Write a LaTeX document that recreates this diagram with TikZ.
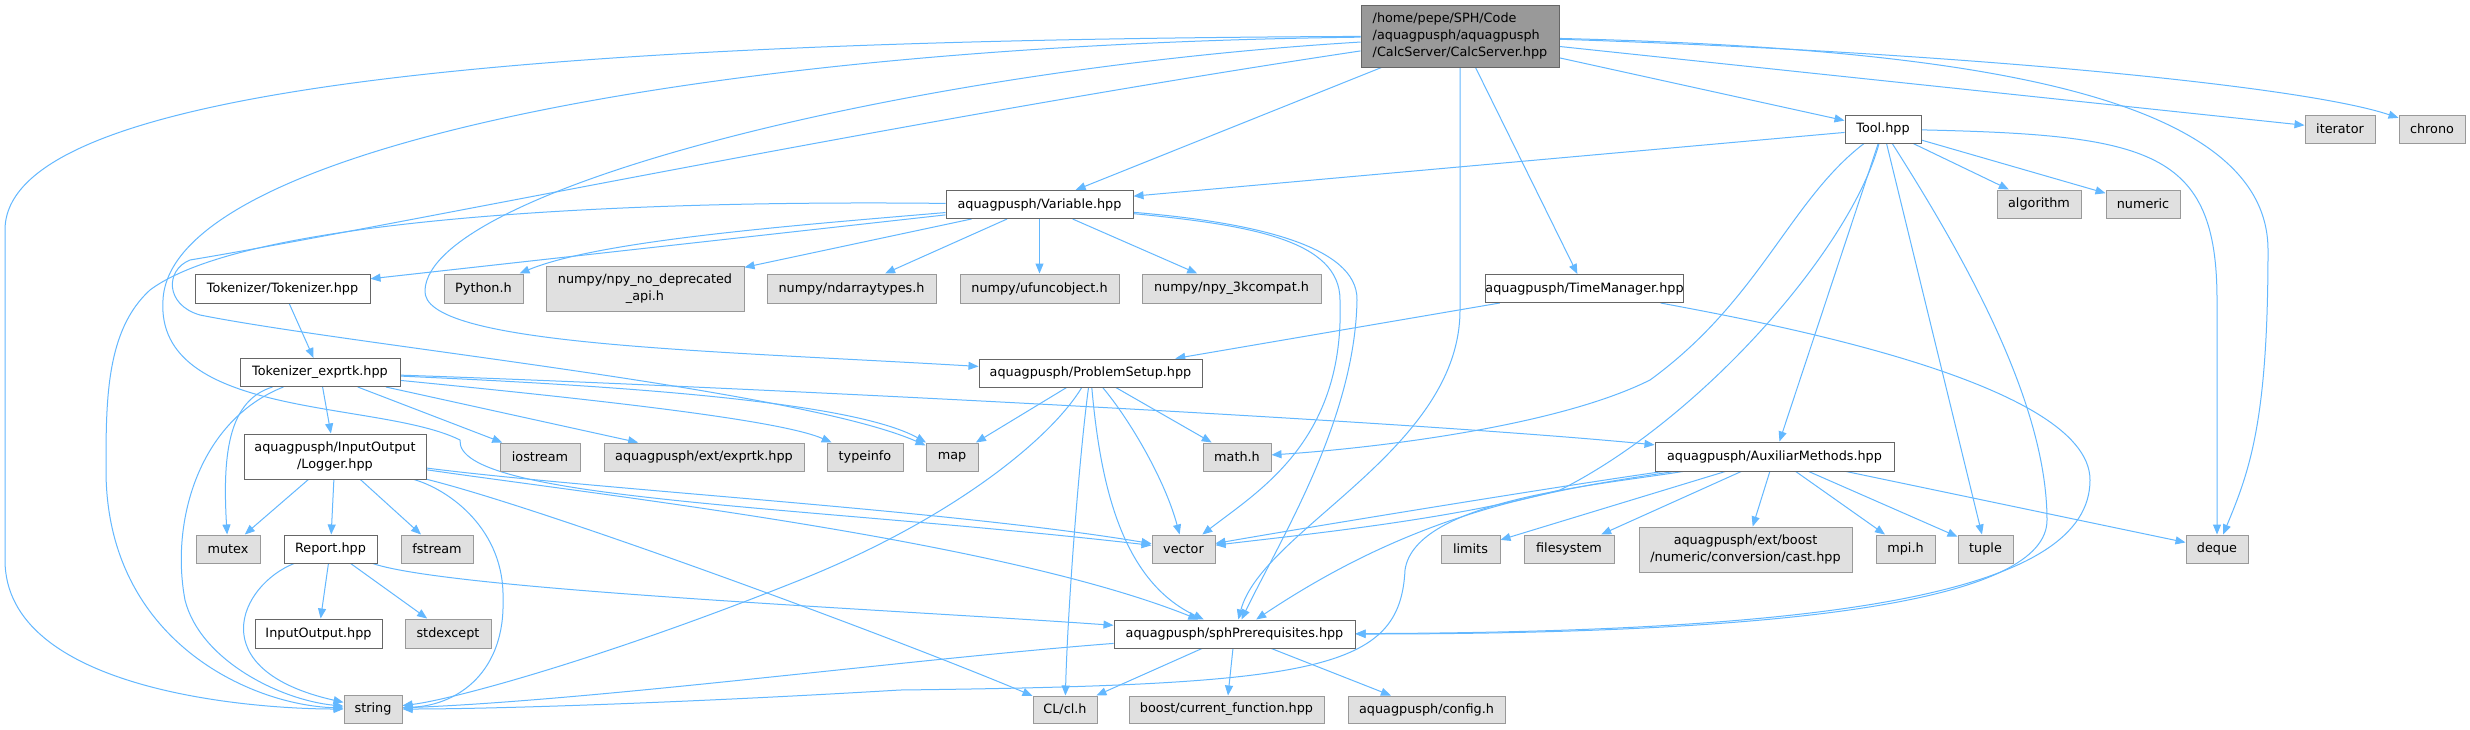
\documentclass[tikz,border=0pt]{standalone}
\usepackage{fontspec}
\setmainfont{DejaVu Sans}
\usetikzlibrary{arrows.meta,backgrounds}
\definecolor{edgec}{RGB}{99,184,255}
\definecolor{grayfill}{RGB}{224,224,224}
\definecolor{grayline}{RGB}{153,153,153}
\definecolor{darkline}{RGB}{102,102,102}
\definecolor{rootfill}{RGB}{153,153,153}
\begin{document}
\begin{tikzpicture}[x=0.75pt,y=-0.75pt,
  base/.style={rectangle, inner sep=0pt, line width=0.75pt, align=center,
    font=\fontsize{9.6}{13}\selectfont, text=black},
  sz/.style 2 args={minimum width=#1*0.75pt, minimum height=#2*0.75pt},
  sys/.style={base, draw=grayline, fill=grayfill},
  loc/.style={base, draw=darkline, fill=white},
  rootn/.style={base, draw=darkline, fill=rootfill, align=left},
  dep/.style={draw=edgec, line width=0.75pt, -{Triangle[length=7.5pt,width=6pt]}}
]
\useasboundingbox (0,0) rectangle (2470,729);
% nodes
\node[rootn, sz={198}{62}] (R) at (1460,36) {/home/pepe/SPH/Code\\/aquagpusph/aquagpusph\\/CalcServer/CalcServer.hpp};
\node[loc, sz={76}{28}] (T) at (1883,129) {Tool.hpp};
\node[sys, sz={70}{28}] (it) at (2340,129) {iterator};
\node[sys, sz={66}{28}] (chr) at (2432,129) {chrono};
\node[loc, sz={187}{28}] (V) at (1039.5,204.5) {aquagpusph/Variable.hpp};
\node[sys, sz={84}{28}] (alg) at (2039,204) {algorithm};
\node[sys, sz={74}{28}] (num) at (2143,204) {numeric};
\node[loc, sz={175}{29}] (Tok) at (282.5,288.5) {Tokenizer/Tokenizer.hpp};
\node[sys, sz={79}{29}] (py) at (483.5,288.5) {Python.h};
\node[sys, sz={198}{45}] (npd) at (645,288.5) {numpy/npy\_no\_deprecated\\\_api.h};
\node[sys, sz={169}{29}] (nd) at (851.5,288.5) {numpy/ndarraytypes.h};
\node[sys, sz={159}{29}] (uf) at (1039.5,288.5) {numpy/ufuncobject.h};
\node[sys, sz={179}{29}] (n3k) at (1231.5,288.5) {numpy/npy\_3kcompat.h};
\node[loc, sz={175}{28}] (TM) at (1584.5,288.5) {aquagpusph/TimeManager.hpp};
\node[loc, sz={160}{28}] (TE) at (320,372.5) {Tokenizer\_exprtk.hpp};
\node[loc, sz={223}{28}] (PS) at (1090.5,373) {aquagpusph/ProblemSetup.hpp};
\node[loc, sz={182}{45}] (Log) at (335,456.5) {aquagpusph/InputOutput\\/Logger.hpp};
\node[sys, sz={80}{28}] (ios) at (540,457) {iostream};
\node[sys, sz={200}{28}] (ext) at (704,457) {aquagpusph/ext/exprtk.hpp};
\node[sys, sz={76}{28}] (ti) at (865,457) {typeinfo};
\node[sys, sz={52}{28}] (map) at (952,457) {map};
\node[sys, sz={68}{28}] (math) at (1237,457) {math.h};
\node[loc, sz={239}{29}] (A) at (1774.5,456.5) {aquagpusph/AuxiliarMethods.hpp};
\node[sys, sz={64}{28}] (mtx) at (228,549) {mutex};
\node[loc, sz={93}{28}] (Rep) at (330.5,549) {Report.hpp};
\node[sys, sz={72}{28}] (fs) at (437,549) {fstream};
\node[sys, sz={63}{28}] (vec) at (1183.5,549) {vector};
\node[sys, sz={59}{28}] (lim) at (1470.5,549) {limits};
\node[sys, sz={90}{28}] (fsys) at (1569,549) {filesystem};
\node[sys, sz={213}{45}] (cast) at (1745.5,549.5) {aquagpusph/ext/boost\\/numeric/conversion/cast.hpp};
\node[sys, sz={59}{28}] (mpi) at (1905.5,549) {mpi.h};
\node[sys, sz={55}{28}] (tup) at (1985.5,549) {tuple};
\node[sys, sz={62}{28}] (dq) at (2217,549) {deque};
\node[loc, sz={127}{29}] (IO) at (318.5,633.5) {InputOutput.hpp};
\node[sys, sz={86}{29}] (se) at (448,633.5) {stdexcept};
\node[loc, sz={241}{28}] (S) at (1234.5,634) {aquagpusph/sphPrerequisites.hpp};
\node[sys, sz={58}{28}] (str) at (373,709) {string};
\node[sys, sz={64}{27}] (CL) at (1065,709.5) {CL/cl.h};
\node[sys, sz={195}{27}] (bst) at (1226.5,709.5) {boost/current\_function.hpp};
\node[sys, sz={157}{27}] (cfg) at (1426.5,709.5) {aquagpusph/config.h};
% edges
\begin{pgfonlayer}{background}
\fill[white] (0,0) rectangle (2470,729);
% CalcServer
\draw[dep] (R) .. controls (500,40) and (5,90) .. (5,230) -- (5,560) .. controls (5,690) and (250,709) .. (str);
\draw[dep] (R) .. controls (700,45) and (170,150) .. (163,300) .. controls (155,420) and (380,400) .. (460,440) .. controls (455,500) and (800,505) .. (vec);
\draw[dep] (R) .. controls (900,120) and (400,225) .. (190,260) .. controls (165,270) and (165,305) .. (200,315) .. controls (350,345) and (800,390) .. (map);
\draw[dep] (R) .. controls (900,70) and (430,190) .. (425,290) .. controls (420,345) and (700,350) .. (PS);
\draw[dep] (R) .. controls (1950,48) and (2268,90) .. (2268,250) .. controls (2268,420) and (2250,470) .. (dq);
\draw[dep] (R) -- (it);
\draw[dep] (R) .. controls (1950,52) and (2300,85) .. (chr);
\draw[dep] (R) -- (T);
\draw[dep] (R) -- (V);
\draw[dep] (R) -- (TM);
\draw[dep] (R) -- (1460,310) .. controls (1460,450) and (1262,530) .. (S);
% Variable
\draw[dep] (V) .. controls (650,200) and (250,215) .. (150,290) .. controls (106,330) and (106,400) .. (106,470) .. controls (106,640) and (250,705) .. (str);
\draw[dep] (V) -- (Tok);
\draw[dep] (V) .. controls (800,225) and (600,240) .. (py);
\draw[dep] (V) -- (npd);
\draw[dep] (V) -- (nd);
\draw[dep] (V) -- (uf);
\draw[dep] (V) -- (n3k);
\draw[dep] (V) .. controls (1250,225) and (1340,240) .. (1340,300) .. controls (1345,440) and (1260,490) .. (vec);
\draw[dep] (V) .. controls (1250,222) and (1358,245) .. (1357,300) .. controls (1355,420) and (1280,540) .. (S);
% Tool
\draw[dep] (T) -- (V);
\draw[dep] (T) .. controls (1790,200) and (1760,300) .. (1650,380) .. controls (1550,430) and (1350,450) .. (math);
\draw[dep] (T) .. controls (1850,250) and (1700,420) .. (1560,490) .. controls (1450,520) and (1300,535) .. (vec);
\draw[dep] (T) -- (A);
\draw[dep] (T) .. controls (1960,250) and (2047,400) .. (2047,520) .. controls (2047,600) and (1800,634) .. (S);
\draw[dep] (T) -- (tup);
\draw[dep] (T) -- (alg);
\draw[dep] (T) -- (num);
\draw[dep] (T) .. controls (2150,135) and (2217,150) .. (2217,300) -- (dq);
% TimeManager
\draw[dep] (TM) -- (PS);
\draw[dep] (TM) .. controls (1750,320) and (2090,380) .. (2090,480) .. controls (2090,590) and (1850,632) .. (S);
% Tokenizer
\draw[dep] (Tok) -- (TE);
\draw[dep] (TE) -- (Log);
\draw[dep] (TE) .. controls (230,400) and (222,450) .. (mtx);
\draw[dep] (TE) .. controls (200,420) and (170,520) .. (185,600) .. controls (200,660) and (280,700) .. (str);
\draw[dep] (TE) -- (ios);
\draw[dep] (TE) -- (ext);
\draw[dep] (TE) .. controls (600,400) and (780,420) .. (ti);
\draw[dep] (TE) .. controls (600,385) and (850,400) .. (map);
\draw[dep] (TE) .. controls (700,385) and (1400,420) .. (A);
% Logger
\draw[dep] (Log) -- (mtx);
\draw[dep] (Log) -- (Rep);
\draw[dep] (Log) -- (fs);
\draw[dep] (Log) .. controls (450,490) and (505,530) .. (503,600) .. controls (505,670) and (460,705) .. (str);
\draw[dep] (Log) .. controls (600,490) and (950,510) .. (vec);
\draw[dep] (Log) .. controls (600,495) and (1000,540) .. (S);
\draw[dep] (Log) .. controls (550,510) and (900,640) .. (CL);
% Report
\draw[dep] (Rep) -- (IO);
\draw[dep] (Rep) -- (se);
\draw[dep] (Rep) .. controls (240,585) and (200,670) .. (str);
\draw[dep] (Rep) .. controls (450,590) and (900,610) .. (S);
% ProblemSetup
\draw[dep] (PS) -- (map);
\draw[dep] (PS) -- (math);
\draw[dep] (PS) .. controls (1130,420) and (1165,480) .. (vec);
\draw[dep] (PS) .. controls (1050,440) and (950,520) .. (800,580) .. controls (600,660) and (450,700) .. (str);
\draw[dep] (PS) .. controls (1080,450) and (1068,600) .. (CL);
\draw[dep] (PS) .. controls (1100,480) and (1120,580) .. (S);
% AuxiliarMethods
\draw[dep] (A) .. controls (1600,480) and (1350,520) .. (vec);
\draw[dep] (A) .. controls (1550,490) and (1420,510) .. (S);
\draw[dep] (A) .. controls (1600,485) and (1415,500) .. (1405,570) .. controls (1400,670) and (1320,685) .. (900,690) .. controls (700,702) and (500,709) .. (str);
\draw[dep] (A) -- (lim);
\draw[dep] (A) -- (fsys);
\draw[dep] (A) -- (cast);
\draw[dep] (A) -- (mpi);
\draw[dep] (A) -- (tup);
\draw[dep] (A) -- (dq);
% sphPrerequisites
\draw[dep] (S) .. controls (900,660) and (600,700) .. (str);
\draw[dep] (S) -- (CL);
\draw[dep] (S) -- (bst);
\draw[dep] (S) -- (cfg);
\end{pgfonlayer}
\end{tikzpicture}
\end{document}
